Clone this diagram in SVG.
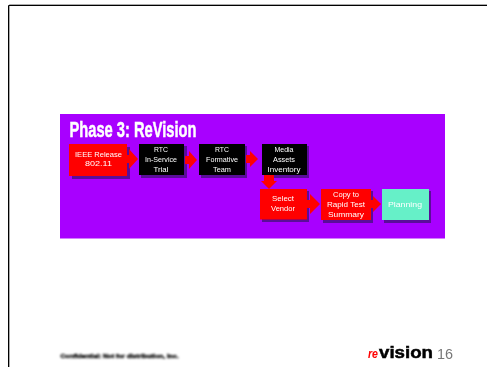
<svg xmlns="http://www.w3.org/2000/svg" width="487" height="367" viewBox="0 0 487 367">
<defs>
<filter id="b" x="-10%" y="-20%" width="120%" height="140%"><feGaussianBlur stdDeviation="0.6"/></filter>
<filter id="t" x="-10%" y="-30%" width="120%" height="160%"><feGaussianBlur stdDeviation="0.7"/></filter>
<filter id="u" x="-10%" y="-30%" width="120%" height="160%"><feGaussianBlur stdDeviation="0.8"/></filter>
</defs>
<style>
text{font-family:"Liberation Sans",Arial,sans-serif;text-anchor:middle}
.l{fill:#fff;font-size:8px}
.s{fill:#5a0a99}
.r{fill:#f00}.k{fill:#000}
</style>
<rect width="487" height="367" fill="#fff"/>
<path d="M9.500 367V4.500H487" fill="none" stroke="#aaa" stroke-width="1"/>
<path d="M8.500 367V5.500H487" fill="none" stroke="#000" stroke-width="1"/>
<g filter="url(#b)">
<rect x="60" y="114" width="385" height="124.500" fill="#a800ff"/>
<g id="n1"><rect class="s" x="72" y="147" width="58" height="32"/><rect class="r" x="69" y="144" width="58" height="32"/></g>
<g id="n2"><rect class="s" x="141" y="146" width="46" height="32"/><rect class="k" x="139" y="144" width="45" height="31"/></g>
<g id="n3"><rect class="s" x="201" y="146" width="46" height="32"/><rect class="k" x="199" y="144" width="46" height="31"/></g>
<g id="n4"><rect class="s" x="264" y="146" width="45" height="32"/><rect class="k" x="262" y="144" width="45" height="31"/></g>
<g id="n5"><rect class="s" x="262" y="191" width="47" height="31"/><rect class="r" x="260" y="189" width="47" height="30.500"/></g>
<g id="n6"><rect class="s" x="323" y="191" width="50" height="32"/><rect class="r" x="321" y="189" width="50" height="31"/></g>
<g id="n7"><rect class="s" x="384" y="191" width="47" height="32"/><rect x="382" y="189" width="47" height="31" fill="#66f0c8"/></g>
<g id="connectors" class="r">
<path d="M125 155h4v-6l9 10-9 10v-6h-4z"/>
<path d="M185 156h4v-5l8 9-8 9v-5h-4z"/>
<path d="M246 155h4v-4l8 8-8 8v-4h-4z"/>
<path d="M264 175h10v6h3l-8 8-8-8h3z"/>
<path d="M307 200h3v-6l10 10-10 10v-6h-3z"/>
<path d="M371 200h2v-4l8 8-8 8v-4h-2z"/>
</g>
</g>
<g filter="url(#t)">
<text x="133" y="137" fill="#fff" stroke="#fff" stroke-width=".5" font-size="22" font-weight="700" textLength="127" lengthAdjust="spacingAndGlyphs">Phase 3: ReVision</text>
<text class="l" x="98.500" y="157" textLength="47" lengthAdjust="spacingAndGlyphs">IEEE Release</text><text class="l" x="98.500" y="166" textLength="27" lengthAdjust="spacingAndGlyphs">802.11</text>
<text class="l" x="161" y="152" textLength="14" lengthAdjust="spacingAndGlyphs">RTC</text><text class="l" x="161" y="162" textLength="32" lengthAdjust="spacingAndGlyphs">In-Service</text><text class="l" x="161" y="172" textLength="15" lengthAdjust="spacingAndGlyphs">Trial</text>
<text class="l" x="222" y="152" textLength="14" lengthAdjust="spacingAndGlyphs">RTC</text><text class="l" x="222" y="162" textLength="32" lengthAdjust="spacingAndGlyphs">Formative</text><text class="l" x="222" y="172" textLength="18" lengthAdjust="spacingAndGlyphs">Team</text>
<text class="l" x="284" y="152" textLength="19" lengthAdjust="spacingAndGlyphs">Media</text><text class="l" x="284" y="162" textLength="22" lengthAdjust="spacingAndGlyphs">Assets</text><text class="l" x="284" y="172" textLength="33" lengthAdjust="spacingAndGlyphs">Inventory</text>
<text class="l" x="283" y="201" textLength="22" lengthAdjust="spacingAndGlyphs">Select</text><text class="l" x="283" y="211" textLength="24" lengthAdjust="spacingAndGlyphs">Vendor</text>
<text class="l" x="346" y="197" textLength="26" lengthAdjust="spacingAndGlyphs">Copy to</text><text class="l" x="346" y="207" textLength="38" lengthAdjust="spacingAndGlyphs">Rapid Test</text><text class="l" x="346" y="217" textLength="36" lengthAdjust="spacingAndGlyphs">Summary</text>
<text class="l" x="405" y="207" textLength="34" lengthAdjust="spacingAndGlyphs">Planning</text>
<text x="368" y="358" font-size="13" font-style="italic" font-weight="700" fill="#f00" style="text-anchor:start" textLength="10" lengthAdjust="spacingAndGlyphs">re</text>
<text x="379" y="358" font-size="17" font-weight="700" stroke="#000" stroke-width=".5" fill="#000" style="text-anchor:start" textLength="54" lengthAdjust="spacingAndGlyphs">vision</text>
<text x="445" y="358.500" font-size="15" fill="#777" textLength="16" lengthAdjust="spacingAndGlyphs">16</text>
</g>
<text x="119.500" y="358" font-size="5" font-weight="700" fill="#000" stroke="#000" stroke-width=".3" textLength="118" lengthAdjust="spacingAndGlyphs" filter="url(#u)">Confidential: Not for distribution, Inc.</text>
</svg>
